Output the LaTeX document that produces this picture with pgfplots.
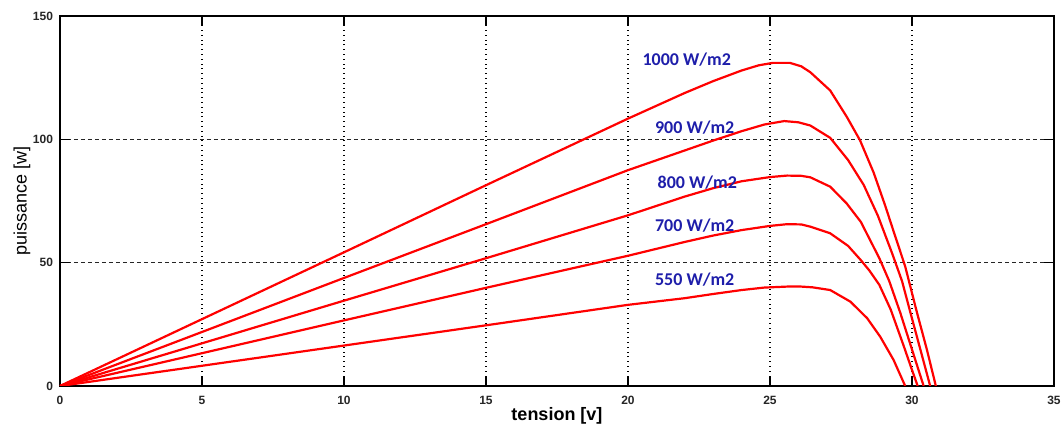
\documentclass[border=0pt]{standalone}
\usepackage{pgfplots}
\pgfplotsset{compat=1.18}
\usepackage{fontspec}
\setmainfont{Liberation Sans}
\newfontfamily\calfont{Carlito}
\definecolor{lblblue}{RGB}{30,30,170}
\tikzset{pvcurve/.style={color=red, line width=1.1pt, line join=round, mark=none}}
\begin{document}
\begin{tikzpicture}
\begin{axis}[
  scale only axis, width=497pt, height=185pt,
  xmin=0, xmax=35, ymin=0, ymax=150,
  xtick={0,5,...,35}, ytick={0,50,100,150},
  grid=major,
  x grid style={black, dotted, line width=0.6pt},
  y grid style={black!85, dash pattern=on 2pt off 1.5pt, line width=0.5pt},
  tick align=inside, major tick length=5pt,
  axis line style={black, line width=0.6pt},
  tick style={black, line width=0.6pt},
  /pgf/number format/assume math mode=true,
  ticklabel style={font=\bfseries\fontsize{6}{7}\selectfont, text=black!85},
  xticklabel style={yshift=-1.5pt},
  xlabel={tension [v]}, ylabel={puissance [w]},
  xlabel style={font=\bfseries\fontsize{9}{10}\selectfont, at={(axis description cs:0.5,-0.081)}, anchor=center},
  ylabel style={font=\fontsize{9}{10}\selectfont, at={(axis description cs:-0.0382,0.5)}, anchor=center},
]
% 1000 W/m2
\addplot[pvcurve] coordinates {(0,0) (5,27.1) (10,54.2) (15,81.4) (20,108.4) (22,118.8) (23,123.6) (24,127.9) (24.6,130.0) (25.1,131.0) (25.7,131.0) (26.1,129.6) (26.42,127.2) (27.12,119.8) (27.71,109.0) (28.17,99.6) (28.65,86.5) (29.06,73.0) (29.4,61.0) (29.76,48.5) (30.17,30.0) (30.53,14.5) (30.84,0)};
% 900 W/m2
\addplot[pvcurve] coordinates {(0,0) (5,21.9) (10,43.8) (15,65.6) (20,87.5) (22,95.5) (23,99.5) (24,103.3) (24.8,106.0) (25.5,107.4) (26.0,106.9) (26.42,105.6) (27.12,100.6) (27.75,91.6) (28.3,81.5) (28.8,69.0) (29.3,53.8) (29.65,42.5) (29.95,29.5) (30.29,15.0) (30.64,0)};
% 800 W/m2
\addplot[pvcurve] coordinates {(0,0) (5,17.3) (10,34.6) (15,51.8) (20,69.2) (22,76.8) (23,80.2) (24,83.0) (25,84.7) (25.6,85.3) (26.1,85.2) (26.42,84.6) (27.12,80.8) (27.7,74.0) (28.2,66.5) (28.85,51.8) (29.2,42.5) (29.59,29.6) (29.98,15.5) (30.41,0)};
% 700 W/m2
\addplot[pvcurve] coordinates {(0,0) (5,13.3) (10,26.6) (15,39.8) (20,52.8) (22,58.4) (23,61.0) (24,63.2) (25,64.9) (25.6,65.6) (26.1,65.5) (26.42,64.6) (27.12,61.9) (27.75,56.8) (28.2,51.0) (28.5,46.8) (28.85,41.0) (29.25,31.0) (29.7,16.5) (30.0,6.5) (30.2,0)};
% 550 W/m2
\addplot[pvcurve] coordinates {(0,0) (5,8.2) (10,16.4) (15,24.6) (20,32.9) (22,35.6) (23,37.3) (24,38.9) (24.8,39.9) (25.6,40.3) (26.1,40.3) (26.5,40.0) (27.12,38.9) (27.83,34.2) (28.42,27.5) (28.88,20.0) (29.35,10.6) (29.76,0)};
\node[font=\calfont\bfseries\fontsize{9}{10}\selectfont, text=lblblue] at (axis cs:22.07,132.2) {1000 W/m2};
\node[font=\calfont\bfseries\fontsize{9}{10}\selectfont, text=lblblue] at (axis cs:22.35,104.6) {900 W/m2};
\node[font=\calfont\bfseries\fontsize{9}{10}\selectfont, text=lblblue] at (axis cs:22.44,82.4) {800 W/m2};
\node[font=\calfont\bfseries\fontsize{9}{10}\selectfont, text=lblblue] at (axis cs:22.35,64.9) {700 W/m2};
\node[font=\calfont\bfseries\fontsize{9}{10}\selectfont, text=lblblue] at (axis cs:22.35,43.3) {550 W/m2};
\end{axis}
\pgfresetboundingbox
\path[use as bounding box] ([xshift=-30pt,yshift=-21pt]current axis.south west) rectangle ([xshift=4pt,yshift=8pt]current axis.north east);
\end{tikzpicture}
\end{document}
